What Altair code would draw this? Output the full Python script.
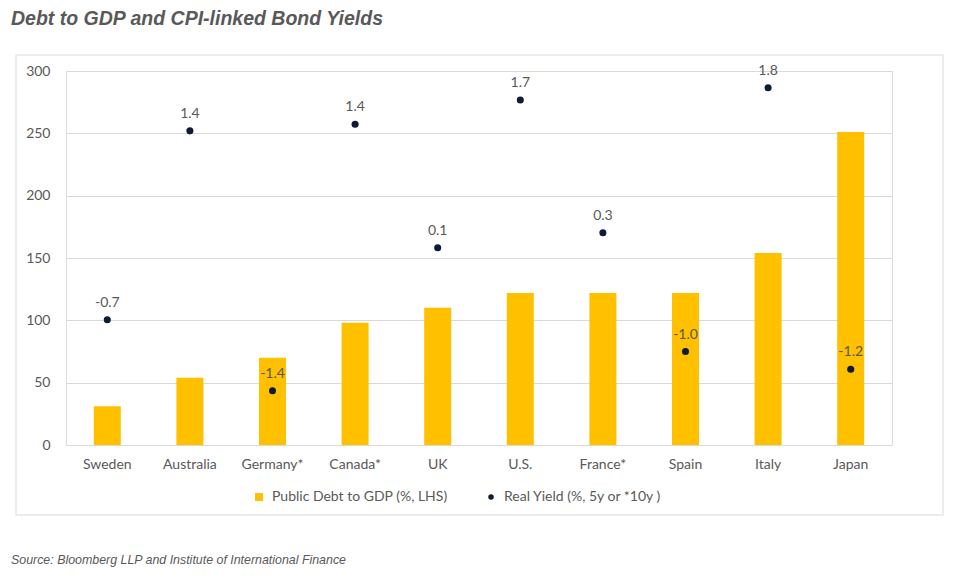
import altair as alt
import pandas as pd

countries = ["Sweden", "Australia", "Germany*", "Canada*", "UK", "U.S.", "France*", "Spain", "Italy", "Japan"]
debt_to_gdp = [31, 54, 70, 98, 110, 122, 122, 122, 154, 251]
real_yield = [-0.66, 1.36, -1.42, 1.43, 0.11, 1.69, 0.27, -1.0, 1.82, -1.19]
left_ticks = [0, 50, 100, 150, 200, 250, 300]
right_ticks = [-2, -1.5, -1, -0.5, 0, 0.5, 1, 1.5, 2]

BAR_NAME = "Public Debt to GDP (%, LHS)"
PT_NAME = "Real  Yield  (%, 5y or *10y )"

df = pd.DataFrame({
    "country": countries,
    "debt": debt_to_gdp,
    "yield": real_yield,
    "label": [f"{v:.1f}" for v in real_yield],
    "bar_series": BAR_NAME,
    "pt_series": PT_NAME,
})

FONT = "Lato"
GREY = "#595959"
GOLD = "#FFC000"
NAVY = "#0D1B36"

color_scale = alt.Scale(domain=[BAR_NAME, PT_NAME], range=[GOLD, NAVY])
shape_scale = alt.Scale(domain=[BAR_NAME, PT_NAME], range=["M-1.45,-1.45H1.45V1.45H-1.45Z", "circle"])
legend = alt.Legend(
    title=None, orient="none", legendX=186, legendY=419, direction="horizontal",
    labelFont=FONT, labelFontSize=14, labelColor=GREY, symbolSize=30, labelLimit=400,
    columnPadding=36, symbolStrokeWidth=0, labelOffset=6,
)

x_enc = alt.X(
    "country:N", sort=countries, title=None,
    scale=alt.Scale(paddingInner=0.6, paddingOuter=0.3),
    axis=alt.Axis(labelAngle=0, labelFont=FONT, labelFontSize=14, labelColor=GREY,
                  ticks=False, domain=False, labelPadding=12, grid=False),
)

base = alt.Chart(df)

bars = base.mark_bar(size=27, color=GOLD).encode(
    x=x_enc,
    y=alt.Y("debt:Q", title=None, scale=alt.Scale(domain=[0, 300], nice=False),
            axis=alt.Axis(values=left_ticks, grid=True, gridColor="#d9d9d9", ticks=False,
                          domain=False, labelFont=FONT, labelFontSize=14, labelColor=GREY,
                          labelPadding=16)),
    color=alt.Color("bar_series:N", scale=color_scale, legend=legend),
)

yscale_r = alt.Scale(domain=[-2, 2], nice=False)
points = base.mark_point(filled=True, size=50, opacity=1).encode(
    x=alt.X("country:N", sort=countries),
    y=alt.Y("yield:Q", title=None, scale=yscale_r,
            axis=alt.Axis(orient="right", values=right_ticks, grid=False, ticks=False,
                          domain=False, labelFont=FONT, labelFontSize=14, labelColor=GREY,
                          labelPadding=16, labelExpr="'' + datum.value")),
    color=alt.Color("pt_series:N", scale=color_scale, legend=legend),
    shape=alt.Shape("pt_series:N", scale=shape_scale, legend=legend),
)
labels = base.mark_text(dy=-17, font=FONT, fontSize=14, color=GREY).encode(
    x=alt.X("country:N", sort=countries),
    y=alt.Y("yield:Q", scale=yscale_r, axis=None),
    text="label:N",
)
right_layer = alt.layer(points, labels)

frame = alt.Chart(alt.Data(values=[{"k": 1}])).mark_rect(
    fill=None, stroke="#e6e6e6", strokeWidth=1.5
).encode(x=alt.value(-50), x2=alt.value(877), y=alt.value(-16), y2=alt.value(444))

source = alt.Chart(alt.Data(values=[{"t": "Source: Bloomberg LLP and Institute of International Finance"}])).mark_text(
    align="left", baseline="middle", font="Liberation Sans", fontSize=12.4, fontStyle="italic", color=GREY
).encode(x=alt.value(-55), y=alt.value(489), text="t:N")

chart = alt.layer(frame, bars, right_layer, source).resolve_scale(y="independent").properties(
    width=826, height=374,
    padding={"left": 58, "top": 63, "right": 75, "bottom": 125},
    autosize=alt.AutoSizeParams(type="none"),
    title=alt.TitleParams(
        "Debt to GDP and CPI-linked Bond Yields", anchor="start", frame="group", dx=-55, offset=25,
        font="Liberation Sans", fontSize=19.5, fontStyle="italic", fontWeight="bold", color=GREY,
    ),
).configure_view(stroke=None).configure(background="white")

chart.save("out.html", embed_options={"renderer": "svg", "actions": False})
